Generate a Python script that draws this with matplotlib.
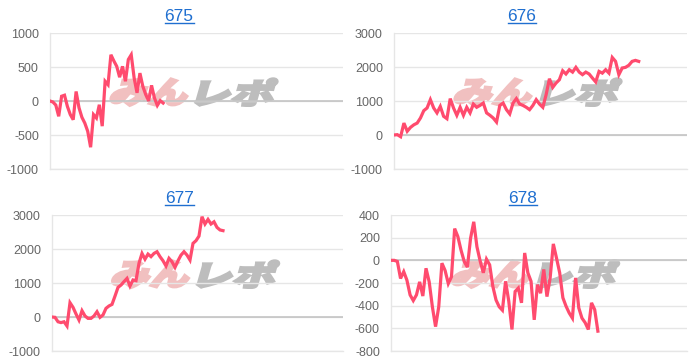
import matplotlib
matplotlib.use("Agg")
import matplotlib.pyplot as plt
import numpy as np
from matplotlib.textpath import TextPath
from matplotlib.font_manager import FontProperties
from matplotlib.patches import PathPatch
from matplotlib.transforms import Affine2D, IdentityTransform
from matplotlib.lines import Line2D

# chart values
titles = ["675", "676", "677", "678"]

values_675 = [0, -15, -60, -225, 70, 85, -80, -200, -275, 140, -100, -240, -325, -445,
              -680, -200, -250, -55, -370, 290, 240, 680, 590, 510, 350, 510, 290, 610,
              680, 340, 120, 410, 215, 95, 0, 230, 45, -65, 5, -30]

values_676 = [0, 10, -50, 350, 110, 225, 300, 350, 500, 715, 795, 1040, 795, 650, 840,
              550, 480, 1070, 795, 580, 815, 580, 815, 650, 910, 815, 870, 940, 650, 580,
              500, 380, 870, 940, 745, 620, 940, 1070, 910, 870, 815, 745, 870, 1040, 910,
              815, 1185, 1655, 1400, 1530, 1625, 1890, 1795, 1920, 1850, 1990, 1850, 1775,
              1850, 1795, 1675, 1560, 1870, 1820, 1920, 1820, 2280, 2165, 1775, 1970, 1990,
              2050, 2165, 2195, 2165]

values_677 = [0, -10, -140, -165, -140, -265, 420, 285, 90, -90, 185, 30, -40, -40, 30,
              155, -10, 60, 255, 325, 370, 615, 870, 940, 1040, 1135, 910, 1090, 1070, 1580,
              1870, 1700, 1850, 1775, 1870, 1920, 1775, 1655, 1500, 1725, 1625, 1460, 1655,
              1820, 1920, 1820, 1675, 2165, 2245, 2380, 2950, 2735, 2870, 2735, 2800, 2635,
              2560, 2540]

values_678 = [0, 0, -10, -160, -100, -175, -305, -355, -305, -190, -315, -70, -190, -410,
              -585, -410, -25, -90, -205, -145, 280, 210, 90, -10, -60, 195, 340, 120, -5,
              -110, 10, -40, -230, -350, -410, -440, -185, -360, -610, -275, -245, -375, 65,
              -110, -185, -525, -215, -290, -80, -320, -155, 145, 20, -110, -330, -405, -465,
              -510, -155, -420, -510, -550, -610, -375, -435, -625]

y_ranges = [(-1000, 1000, 500), (-1000, 3000, 1000), (-1000, 3000, 1000), (-800, 400, 200)]
x_max = [101, 88.6, 97, 93]

# layout, in pixels from the top-left corner
W, H = 700, 364
axes_px = [(50, 33, 343, 169), (394, 33, 687, 169), (52, 215, 343, 351), (391, 215, 687, 351)]
title_px = [(179, 21), (522, 21), (179.5, 203), (523, 203)]

LINE = "#ff4b6e"
GRID = "#e6e6e6"
LINK = "#1f6fd0"

plt.rcParams["font.family"] = ["Liberation Sans", "DejaVu Sans"]
plt.rcParams["axes.unicode_minus"] = False

fig = plt.figure(figsize=(W / 100, H / 100), dpi=100)
wm_font = FontProperties(family="Noto Sans CJK JP", weight="black")


def watermark(ax):
    bb = ax.bbox
    x0 = bb.x0 + 0.2 * bb.width
    y0 = bb.y0 + 0.465 * bb.height
    h = 0.2 * bb.height
    for txt, dx, w, col in [("みん", 0, 76, "#f1c0c0"), ("レポ", 86, 76, "#bdbdbd")]:
        p = TextPath((0, 0), txt, size=1, prop=wm_font)
        e = p.get_extents()
        tr = (Affine2D().translate(-e.x0, -e.y0)
              .scale(w / e.width, h / e.height)
              .skew_deg(16, 0)
              .translate(x0 + dx, y0))
        patch = PathPatch(tr.transform_path(p), transform=IdentityTransform(),
                          facecolor=col, edgecolor=col, lw=1.8, zorder=0.4)
        patch.set_clip_on(False)
        ax.add_artist(patch)


series = [values_675, values_676, values_677, values_678]
for i, vals in enumerate(series):
    l, t, r, b = axes_px[i]
    ax = fig.add_axes([l / W, 1 - b / H, (r - l) / W, (b - t) / H])
    lo, hi, step = y_ranges[i]
    x = np.arange(len(vals))
    ax.plot(x, vals, color=LINE, lw=2.3, solid_joinstyle="miter", zorder=3)
    ax.set_xlim(0, x_max[i])
    ax.set_ylim(lo, hi)
    ax.set_yticks(np.arange(lo, hi + step, step))
    ax.set_xticks([])
    ax.yaxis.grid(True, color=GRID, lw=1)
    ax.set_axisbelow(True)
    ax.axhline(0, color="#c4c4c4", lw=1.2, zorder=1)
    for s in ["top", "right"]:
        ax.spines[s].set_visible(False)
    for s in ["left", "bottom"]:
        ax.spines[s].set_color(GRID)
        ax.spines[s].set_linewidth(1)
    ax.tick_params(axis="y", length=0, pad=8, labelsize=9, labelcolor="#666666")
    watermark(ax)

    tx, ty = title_px[i]
    fig.text(tx / W, 1 - ty / H, titles[i], ha="center", va="baseline",
             fontsize=12.5, color=LINK)

fig.canvas.draw()
renderer = fig.canvas.get_renderer()
for t in fig.texts:
    bb = t.get_window_extent(renderer)
    tx, ty = t.get_position()
    yl = ty * H - 2
    fig.add_artist(Line2D([bb.x0, bb.x1], [yl, yl], transform=IdentityTransform(),
                          color=LINK, lw=1))

fig.savefig("out.png", dpi=100)
